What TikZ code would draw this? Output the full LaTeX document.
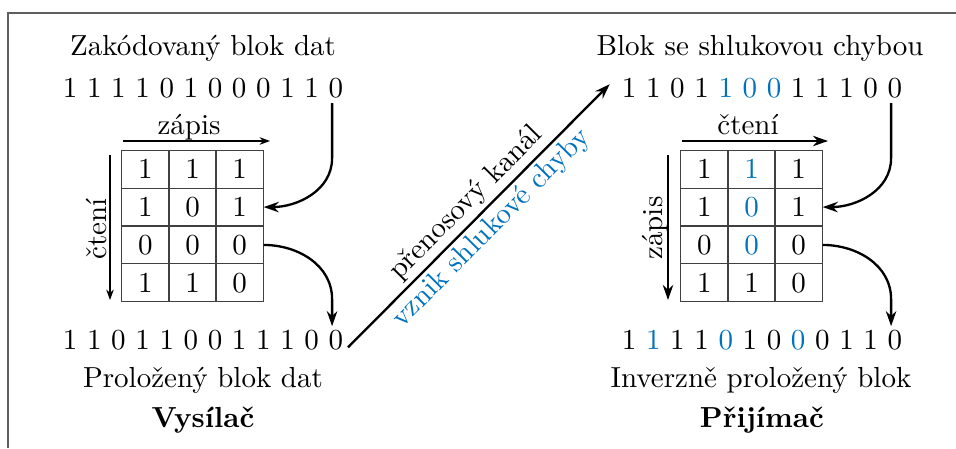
\documentclass[tikz,border=0pt]{standalone}
\usetikzlibrary{arrows.meta,matrix,calc}
\definecolor{errblue}{RGB}{0,114,189}
\definecolor{framegray}{RGB}{95,95,95}
\begin{document}
\begin{tikzpicture}[x=0.34483pt,y=-0.34483pt,
  txt/.style={inner sep=0pt, anchor=base, font=\fontsize{10}{12}\selectfont},
  lbl/.style={inner sep=1.2pt, font=\fontsize{10}{12}\selectfont},
  cell/.style={draw=black!75, line width=0.4pt, minimum width=16.24pt, minimum height=13.06pt, inner sep=0pt, anchor=center, font=\fontsize{10}{12}\selectfont},
  tab/.style={matrix of nodes, nodes={cell}, column sep=-0.4pt, row sep=-0.4pt, inner sep=0pt},
  thinarr/.style={line width=0.4pt, -{Stealth[length=3.6pt,width=2.6pt]}},
  thickarr/.style={line width=0.8pt, -{Stealth[length=5.2pt,width=3.6pt]}},
]
\useasboundingbox (0,0) rectangle (956,448);
\draw[framegray, line width=0.5pt] (8,448) -- (8,13) -- (956,13);

% ---------- Vysilac ----------
\node[txt] (titleL) at (203,55) {Zakódovaný blok dat};
\node[txt] (topL) at (203,97) {1 1 1 1 0 1 0 0 0 1 1 0};
\node[txt] (zapisL) at (189,134) {zápis};
\coordinate (zaL1) at (123,141);
\coordinate (zaL2) at (270,141);
\draw[thinarr] (zaL1) -- (zaL2);
\matrix (L) [tab] at (192.5,226) {
  1 & 1 & 1 \\
  1 & 0 & 1 \\
  0 & 0 & 0 \\
  1 & 1 & 0 \\
};
\node[txt, rotate=90] (cteniL) at (106,229) {čtení};
\coordinate (ctL1) at (110,155);
\coordinate (ctL2) at (110,300);
\draw[thinarr] (ctL1) -- (ctL2);
\node[txt] (botL) at (203,349) {1 1 0 1 1 0 0 1 1 1 0 0};
\node[txt] (capL) at (203,387) {Proložený blok dat};
\node[txt, font=\fontsize{10}{12}\selectfont\bfseries] (vys) at (203,427) {Vysílač};

\coordinate (tlA) at ([xshift=-4pt,yshift=-1.7pt]topL.south east);
\coordinate (blA) at ([xshift=-4pt,yshift=1pt]botL.north east);
\draw[thickarr] (tlA) -- ($(tlA)+(0,55)$) to[out=-90,in=0] (L-2-3.east);
\draw[thickarr] (L-3-3.east) to[out=0,in=90] ($(blA)+(0,-27)$) -- (blA);

% ---------- Prijimac ----------
\node[txt] (titleR) at (760,55) {Blok se shlukovou chybou};
\node[txt] (topR) at (762,97) {1 1 0 1 \textcolor{errblue}{1 0 0} 1 1 1 0 0};
\node[txt] (cteniR) at (748,134) {čtení};
\coordinate (crR1) at (682,141);
\coordinate (crR2) at (828,141);
\draw[thickarr] (crR1) -- (crR2);
\matrix (R) [tab] at (751.5,226) {
  1 & \textcolor{errblue}{1} & 1 \\
  1 & \textcolor{errblue}{0} & 1 \\
  0 & \textcolor{errblue}{0} & 0 \\
  1 & 1 & 0 \\
};
\node[txt, rotate=90] (zapisR) at (662,228) {zápis};
\coordinate (zpR1) at (668,155);
\coordinate (zpR2) at (668,300);
\draw[thickarr] (zpR1) -- (zpR2);
\node[txt] (botR) at (762,349) {1 \textcolor{errblue}{1} 1 1 \textcolor{errblue}{0} 1 0 \textcolor{errblue}{0} 0 1 1 0};
\node[txt] (capR) at (761,387) {Inverzně proložený blok};
\node[txt, font=\fontsize{10}{12}\selectfont\bfseries] (prij) at (762,427) {Přijímač};

\coordinate (trA) at ([xshift=-4pt,yshift=-1.7pt]topR.south east);
\coordinate (brA) at ([xshift=-4pt,yshift=1pt]botR.north east);
\draw[thickarr] (trA) -- ($(trA)+(0,55)$) to[out=-90,in=0] (R-2-3.east);
\draw[thickarr] (R-3-3.east) to[out=0,in=90] ($(brA)+(0,-27)$) -- (brA);

% ---------- kanal ----------
\coordinate (chS) at ([xshift=1.5pt,yshift=1pt]botL.south east);
\coordinate (chE) at ([xshift=-4pt,yshift=1.2pt]topR.west);
\draw[thickarr] (chS) -- (chE)
  node[lbl, midway, sloped, above] (kanal) {přenosový kanál}
  node[lbl, midway, sloped, below, text=errblue] (vznik) {vznik shlukové chyby};
\end{tikzpicture}
\end{document}
